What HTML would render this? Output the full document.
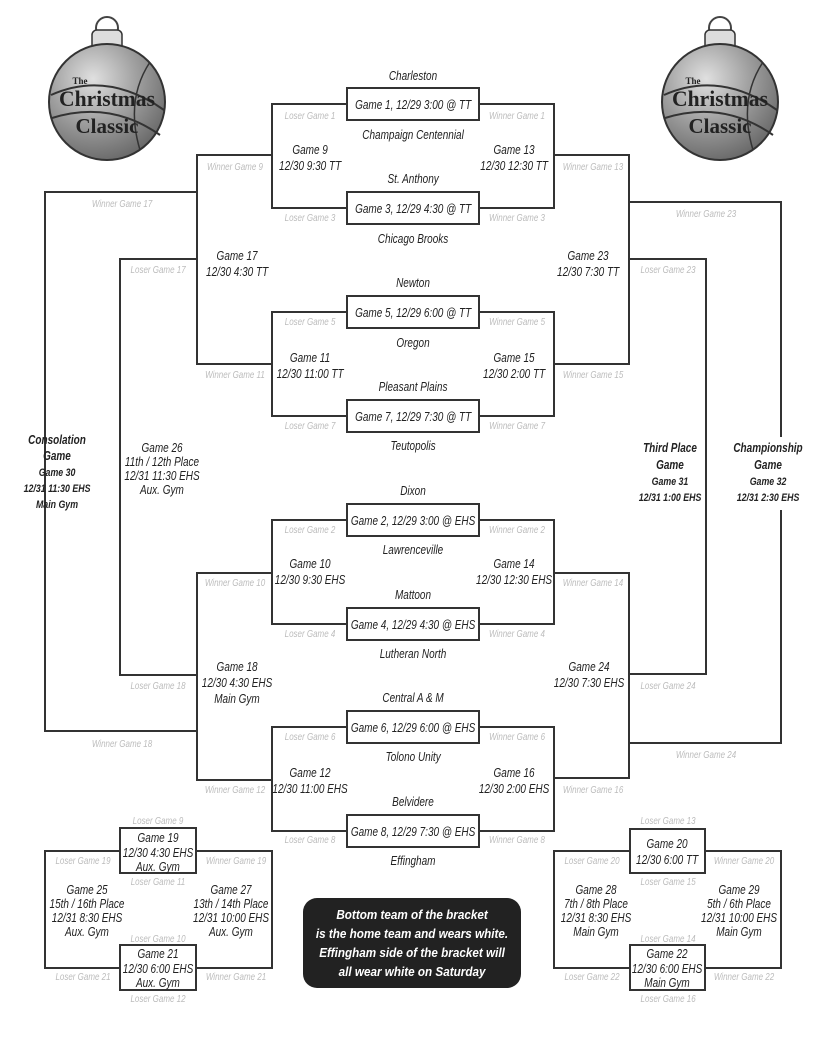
<!DOCTYPE html>
<html><head><meta charset="utf-8"><style>
html,body{margin:0;padding:0;background:#fff;}
svg{display:block;}
text{font-family:"Liberation Sans",Arial,sans-serif;font-style:italic;text-anchor:middle;}
.t text,.g text,.b text,.w text{transform-box:fill-box;transform-origin:center;transform:scaleX(0.8);}
.t{font-size:12.5px;fill:#222;}
.g{font-size:10px;fill:#bcbcbc;}
.b{font-size:12.5px;font-weight:bold;fill:#222;}
.w{font-size:13px;font-weight:bold;fill:#fff;}
.w text{transform:scaleX(0.9);}
.o{font-family:"Liberation Serif",serif;font-style:normal;font-weight:bold;fill:#222;}
</style></head><body>
<svg width="828" height="1039" viewBox="0 0 828 1039" xmlns="http://www.w3.org/2000/svg">
<defs>
<radialGradient id="rg" cx="0.38" cy="0.3" r="0.75">
<stop offset="0" stop-color="#e0e0e0"/><stop offset="0.5" stop-color="#a0a0a0"/><stop offset="1" stop-color="#666"/>
</radialGradient>
</defs>
<g fill="none" stroke="#333" stroke-width="2">
<rect x="347" y="88" width="132" height="32"/>
<rect x="347" y="192" width="132" height="32"/>
<rect x="347" y="296" width="132" height="32"/>
<rect x="347" y="400" width="132" height="32"/>
<rect x="347" y="504" width="132" height="32"/>
<rect x="347" y="608" width="132" height="32"/>
<rect x="347" y="711" width="132" height="32"/>
<rect x="347" y="815" width="132" height="32"/>
<polyline points="347,104 272,104 272,208 347,208"/>
<polyline points="347,312 272,312 272,416 347,416"/>
<polyline points="347,520 272,520 272,624 347,624"/>
<polyline points="347,727 272,727 272,831 347,831"/>
<polyline points="479,104 554,104 554,208 479,208"/>
<polyline points="479,312 554,312 554,416 479,416"/>
<polyline points="479,520 554,520 554,624 479,624"/>
<polyline points="479,727 554,727 554,831 479,831"/>
<polyline points="272,155 197,155 197,364 272,364"/>
<polyline points="272,573 197,573 197,780 272,780"/>
<polyline points="554,155 629,155 629,364 554,364"/>
<polyline points="554,573 629,573 629,778 554,778"/>
<polyline points="197,192 45,192 45,731 197,731"/>
<polyline points="197,259 120,259 120,675 197,675"/>
<polyline points="629,259 706,259 706,674 629,674"/>
<polyline points="629,202 781,202 781,437"/>
<polyline points="781,510 781,743 629,743"/>
<rect x="45" y="851" width="227" height="117"/>
<rect x="120" y="828" width="76" height="45" fill="#fff"/>
<rect x="120" y="945" width="76" height="45" fill="#fff"/>
<rect x="554" y="851" width="227" height="117"/>
<rect x="630" y="829" width="75" height="44" fill="#fff"/>
<rect x="630" y="945" width="75" height="45" fill="#fff"/>
</g>
<rect x="303" y="898" width="218" height="90" rx="14" fill="#222"/>

<g>
<circle cx="107" cy="28" r="11" fill="none" stroke="#444" stroke-width="2"/>
<rect x="92" y="30" width="30" height="24" rx="5" fill="#ddd" stroke="#333" stroke-width="1.5"/>
<circle cx="107" cy="102" r="58" fill="url(#rg)" stroke="#333" stroke-width="2"/>
<path d="M51,95 Q107,70 164,110" fill="none" stroke="#333" stroke-width="2"/>
<path d="M52,118 Q110,100 160,135" fill="none" stroke="#333" stroke-width="2"/>
<path d="M150,62 Q125,100 140,150" fill="none" stroke="#333" stroke-width="1.5"/>
<text class="o" x="80" y="84" font-size="9">The</text>
<text class="o" x="107" y="106" font-size="22" textLength="96" lengthAdjust="spacingAndGlyphs">Christmas</text>
<text class="o" x="107" y="133" font-size="21">Classic</text>
</g>
<g transform="translate(613,0)">
<circle cx="107" cy="28" r="11" fill="none" stroke="#444" stroke-width="2"/>
<rect x="92" y="30" width="30" height="24" rx="5" fill="#ddd" stroke="#333" stroke-width="1.5"/>
<circle cx="107" cy="102" r="58" fill="url(#rg)" stroke="#333" stroke-width="2"/>
<path d="M51,95 Q107,70 164,110" fill="none" stroke="#333" stroke-width="2"/>
<path d="M52,118 Q110,100 160,135" fill="none" stroke="#333" stroke-width="2"/>
<path d="M150,62 Q125,100 140,150" fill="none" stroke="#333" stroke-width="1.5"/>
<text class="o" x="80" y="84" font-size="9">The</text>
<text class="o" x="107" y="106" font-size="22" textLength="96" lengthAdjust="spacingAndGlyphs">Christmas</text>
<text class="o" x="107" y="133" font-size="21">Classic</text>
</g>

<g class="t">
<text x="413" y="80">Charleston</text>
<text x="413" y="139">Champaign Centennial</text>
<text x="413" y="183">St. Anthony</text>
<text x="413" y="243">Chicago Brooks</text>
<text x="413" y="287">Newton</text>
<text x="413" y="347">Oregon</text>
<text x="413" y="391">Pleasant Plains</text>
<text x="413" y="450">Teutopolis</text>
<text x="413" y="495">Dixon</text>
<text x="413" y="554">Lawrenceville</text>
<text x="413" y="599">Mattoon</text>
<text x="413" y="658">Lutheran North</text>
<text x="413" y="702">Central A &amp; M</text>
<text x="413" y="761">Tolono Unity</text>
<text x="413" y="806">Belvidere</text>
<text x="413" y="865">Effingham</text>
<text x="413" y="109">Game 1, 12/29  3:00 @ TT</text>
<text x="413" y="213">Game 3, 12/29  4:30 @ TT</text>
<text x="413" y="317">Game 5, 12/29  6:00 @ TT</text>
<text x="413" y="421">Game 7, 12/29  7:30 @ TT</text>
<text x="413" y="525">Game 2, 12/29  3:00 @ EHS</text>
<text x="413" y="629">Game 4, 12/29  4:30 @ EHS</text>
<text x="413" y="732">Game 6, 12/29  6:00 @ EHS</text>
<text x="413" y="836">Game 8, 12/29  7:30 @ EHS</text>

<text x="310" y="154">Game 9</text><text x="310" y="170">12/30  9:30  TT</text>
<text x="514" y="154">Game 13</text><text x="514" y="170">12/30  12:30  TT</text>
<text x="310" y="362">Game 11</text><text x="310" y="378">12/30  11:00  TT</text>
<text x="514" y="362">Game 15</text><text x="514" y="378">12/30 2:00  TT</text>
<text x="237" y="260">Game 17</text><text x="237" y="276">12/30 4:30  TT</text>
<text x="588" y="260">Game 23</text><text x="588" y="276">12/30 7:30  TT</text>
<text x="310" y="568">Game 10</text><text x="310" y="584">12/30 9:30 EHS</text>
<text x="514" y="568">Game 14</text><text x="514" y="584">12/30 12:30 EHS</text>
<text x="237" y="671">Game 18</text><text x="237" y="687">12/30 4:30 EHS</text><text x="237" y="703">Main Gym</text>
<text x="589" y="671">Game 24</text><text x="589" y="687">12/30 7:30 EHS</text>
<text x="310" y="777">Game 12</text><text x="310" y="793">12/30 11:00 EHS</text>
<text x="514" y="777">Game 16</text><text x="514" y="793">12/30 2:00 EHS</text>
<text x="162" y="452">Game 26</text><text x="162" y="466">11th / 12th Place</text><text x="162" y="480">12/31 11:30 EHS</text><text x="162" y="494">Aux. Gym</text>

<text x="158" y="842">Game 19</text><text x="158" y="857">12/30 4:30 EHS</text><text x="158" y="871">Aux. Gym</text>
<text x="158" y="958">Game 21</text><text x="158" y="973">12/30 6:00 EHS</text><text x="158" y="987">Aux. Gym</text>
<text x="87" y="894">Game 25</text><text x="87" y="908">15th / 16th Place</text><text x="87" y="922">12/31 8:30 EHS</text><text x="87" y="936">Aux. Gym</text>
<text x="231" y="894">Game 27</text><text x="231" y="908">13th / 14th Place</text><text x="231" y="922">12/31 10:00 EHS</text><text x="231" y="936">Aux. Gym</text>

<text x="667" y="848">Game 20</text><text x="667" y="864">12/30 6:00 TT</text>
<text x="667" y="958">Game 22</text><text x="667" y="973">12/30 6:00 EHS</text><text x="667" y="987">Main Gym</text>
<text x="596" y="894">Game 28</text><text x="596" y="908">7th / 8th Place</text><text x="596" y="922">12/31 8:30 EHS</text><text x="596" y="936">Main Gym</text>
<text x="739" y="894">Game 29</text><text x="739" y="908">5th / 6th Place</text><text x="739" y="922">12/31 10:00 EHS</text><text x="739" y="936">Main Gym</text>
</g>
<g class="b">
<text x="57" y="444">Consolation</text><text x="57" y="460">Game</text>
<text x="57" y="476" font-size="11">Game 30</text><text x="57" y="492" font-size="11">12/31 11:30 EHS</text><text x="57" y="508" font-size="11">Main Gym</text>
<text x="670" y="452">Third Place</text><text x="670" y="469">Game</text>
<text x="670" y="485" font-size="11">Game 31</text><text x="670" y="501" font-size="11">12/31 1:00 EHS</text>
<text x="768" y="452">Championship</text><text x="768" y="469">Game</text>
<text x="768" y="485" font-size="11">Game 32</text><text x="768" y="501" font-size="11">12/31 2:30 EHS</text>
</g>
<g class="w">
<text x="412" y="919">Bottom team of the bracket</text>
<text x="412" y="938">is the home team and wears white.</text>
<text x="412" y="957">Effingham side of the bracket will</text>
<text x="412" y="976">all wear white on Saturday</text>
</g>

<g class="g">
<text x="310" y="119">Loser Game 1</text><text x="517" y="119">Winner Game 1</text>
<text x="310" y="221">Loser Game 3</text><text x="517" y="221">Winner Game 3</text>
<text x="235" y="170">Winner Game 9</text><text x="593" y="170">Winner Game 13</text>
<text x="122" y="207">Winner Game 17</text><text x="706" y="217">Winner Game 23</text>
<text x="158" y="273">Loser Game 17</text><text x="668" y="273">Loser Game 23</text>
<text x="310" y="325">Loser Game 5</text><text x="517" y="325">Winner Game 5</text>
<text x="235" y="378">Winner Game 11</text><text x="593" y="378">Winner Game 15</text>
<text x="310" y="429">Loser Game 7</text><text x="517" y="429">Winner Game 7</text>
<text x="310" y="533">Loser Game 2</text><text x="517" y="533">Winner Game 2</text>
<text x="235" y="586">Winner Game 10</text><text x="593" y="586">Winner Game 14</text>
<text x="310" y="637">Loser Game 4</text><text x="517" y="637">Winner Game 4</text>
<text x="158" y="689">Loser Game 18</text><text x="668" y="689">Loser Game 24</text>
<text x="310" y="740">Loser Game 6</text><text x="517" y="740">Winner Game 6</text>
<text x="122" y="747">Winner Game 18</text><text x="706" y="758">Winner Game 24</text>
<text x="235" y="793">Winner Game 12</text><text x="593" y="793">Winner Game 16</text>
<text x="310" y="843">Loser Game 8</text><text x="517" y="843">Winner Game 8</text>
<text x="158" y="824">Loser Game 9</text>
<text x="83" y="864">Loser Game 19</text><text x="236" y="864">Winner Game 19</text>
<text x="158" y="885">Loser Game 11</text><text x="158" y="942">Loser Game 10</text>
<text x="83" y="980">Loser Game 21</text><text x="236" y="980">Winner Game 21</text>
<text x="158" y="1002">Loser Game 12</text>
<text x="668" y="824">Loser Game 13</text>
<text x="592" y="864">Loser Game 20</text><text x="744" y="864">Winner Game 20</text>
<text x="668" y="885">Loser Game 15</text><text x="668" y="942">Loser Game 14</text>
<text x="592" y="980">Loser Game 22</text><text x="744" y="980">Winner Game 22</text>
<text x="668" y="1002">Loser Game 16</text>
</g>
</svg>
</body></html>
